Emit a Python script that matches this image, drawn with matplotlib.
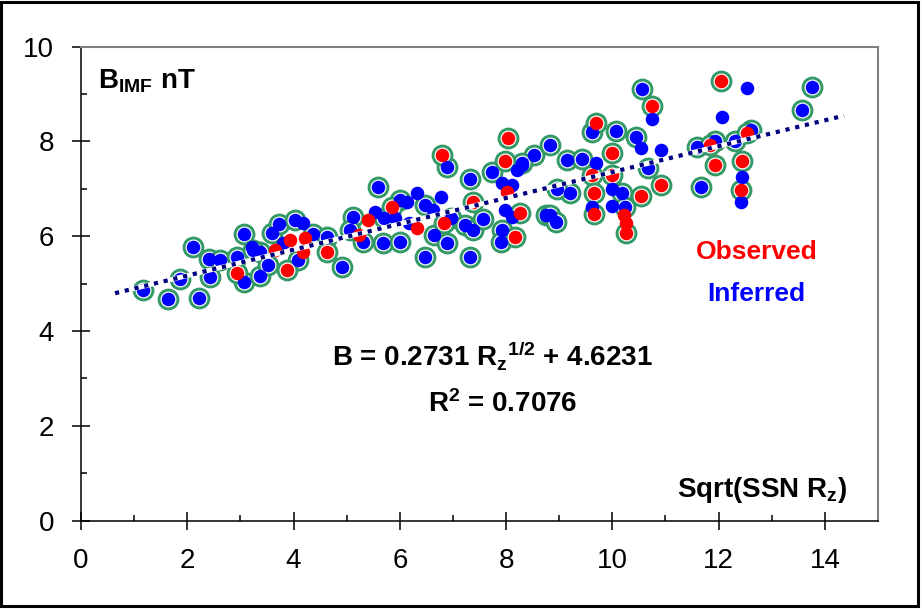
import matplotlib
matplotlib.use('Agg')
import matplotlib.pyplot as plt
from matplotlib.patches import Rectangle
from matplotlib.ticker import MultipleLocator
import numpy as np

plt.rcParams['font.family'] = ['Liberation Sans', 'DejaVu Sans']
plt.rcParams['mathtext.fontset'] = 'custom'
plt.rcParams['mathtext.rm'] = 'Liberation Sans'
plt.rcParams['mathtext.bf'] = 'Liberation Sans:bold'
plt.rcParams['mathtext.it'] = 'Liberation Sans:italic'
plt.rcParams['mathtext.default'] = 'bf'

# inferred values (blue), with green ring
inf_ring_x = [1.17, 1.64, 2.22, 1.86, 2.11, 2.41, 2.61, 2.42, 2.93, 3.06, 3.06, 3.36, 3.36, 3.52,
              3.59, 3.72, 4.02, 4.08, 4.36, 4.62, 4.92, 5.58, 5.11, 5.06, 5.30, 5.68, 6.00, 6.00,
              6.47, 6.65, 6.47, 6.88, 6.88, 6.97, 7.22, 7.33, 7.37, 7.33, 7.56, 7.73, 7.93, 7.91,
              8.53, 8.76, 8.82, 8.29, 9.14, 9.42, 10.68, 10.19, 10.23, 9.21, 8.95, 8.82, 8.93,
              10.56, 9.62, 10.06, 10.45, 13.76, 13.57, 11.60, 11.94, 12.31, 12.61, 11.67, 5.71, 3.23]
inf_ring_y = [4.86, 4.67, 4.69, 5.09, 5.77, 5.52, 5.50, 5.14, 5.56, 6.04, 5.03, 5.66, 5.16, 5.39,
              6.07, 6.26, 6.34, 5.50, 6.04, 5.98, 5.35, 7.04, 6.40, 6.13, 5.88, 5.85, 6.76, 5.88,
              6.66, 6.02, 5.56, 5.85, 7.46, 6.38, 6.23, 7.20, 6.13, 5.56, 6.36, 7.35, 6.13, 5.88,
              7.71, 6.45, 7.92, 7.54, 7.61, 7.63, 7.44, 6.91, 6.61, 6.91, 6.99, 6.45, 6.30,
              9.10, 8.20, 8.22, 8.09, 9.15, 8.66, 7.88, 8.01, 8.01, 8.24, 7.04, 6.38, 5.71]

# inferred values (blue), no ring
inf_x = [3.21, 4.17, 3.80, 5.53, 6.13, 6.33, 6.18, 6.62, 6.77, 7.93, 8.12, 7.97, 8.12, 8.29,
         8.21, 9.70, 10.00, 10.00, 9.62, 10.75, 10.53, 10.92, 12.54, 12.07, 12.44, 12.42, 5.90]
inf_y = [5.77, 6.28, 5.85, 6.51, 6.72, 6.91, 6.28, 6.55, 6.82, 7.12, 7.08, 6.55, 6.40, 7.50,
         7.39, 7.54, 6.99, 6.64, 6.61, 8.47, 7.86, 7.82, 9.12, 8.51, 7.25, 6.72, 6.38]

# observed values (red), with green ring
obs_ring_x = [2.93, 3.87, 4.62, 5.86, 6.84, 6.79, 7.37, 7.97, 8.16, 8.27, 8.03, 9.61, 10.00, 10.00,
              10.92, 10.53, 10.26, 9.66, 9.66, 10.75, 9.70, 12.05, 11.84, 11.94, 12.54, 12.44, 12.42]
obs_ring_y = [5.22, 5.28, 5.66, 6.61, 6.28, 7.71, 6.72, 7.58, 5.98, 6.49, 8.07, 7.29, 7.75, 7.29,
              7.08, 6.85, 6.07, 6.91, 6.47, 8.74, 8.39, 9.27, 7.92, 7.50, 8.18, 7.58, 6.97]

# observed values (red), no ring
obs_x = [3.65, 3.93, 4.21, 4.17, 5.41, 5.24, 6.33, 8.01, 10.21, 10.26]
obs_y = [5.71, 5.92, 5.96, 5.66, 6.34, 6.02, 6.17, 6.93, 6.45, 6.28]

# linear fit  B = a * sqrt(Rz) + b
fit_a = 0.2731
fit_b = 4.6231
fit_range = [0.64, 14.36]

blue = '#0000FF'
red = '#FF0000'
ring = '#339966'

fig = plt.figure(figsize=(9.22, 6.09), dpi=100)
ax = fig.add_axes([0.0879, 0.1453, 0.8644, 0.7780])

ring_x = inf_ring_x + obs_ring_x
ring_y = inf_ring_y + obs_ring_y
ax.scatter(ring_x, ring_y, s=185, facecolors='white', edgecolors=ring, linewidths=2.1, zorder=2)
ax.scatter(inf_ring_x + inf_x, inf_ring_y + inf_y, s=95, c=blue, linewidths=0, zorder=3)
ax.scatter(obs_ring_x + obs_x, obs_ring_y + obs_y, s=95, c=red, linewidths=0, zorder=4)

lx = np.array(fit_range)
ly = fit_a * lx + fit_b
ax.plot(lx, ly, color='white', lw=3.5, solid_capstyle='butt', zorder=5)
ax.plot(lx, ly, color='#000080', lw=3, linestyle=(0, (1, 1.4)), dash_capstyle='butt', zorder=6)

ax.set_xlim(0, 15)
ax.set_ylim(0, 10)
ax.set_xticks([0, 2, 4, 6, 8, 10, 12, 14])
ax.set_yticks([0, 2, 4, 6, 8, 10])
ax.xaxis.set_minor_locator(MultipleLocator(1))
ax.yaxis.set_minor_locator(MultipleLocator(1))
ax.tick_params(which='major', direction='inout', length=13, width=1.1, labelsize=20, color='black')
ax.tick_params(axis='x', which='major', pad=13)
ax.tick_params(axis='y', which='major', pad=13)
ax.tick_params(which='minor', direction='in', length=4.3, width=1.1)

for s in ['left', 'bottom']:
    ax.spines[s].set_color('black')
    ax.spines[s].set_linewidth(1.1)
for s in ['top', 'right']:
    ax.spines[s].set_color('#808080')
    ax.spines[s].set_linewidth(1.5)

ax.text(0.32, 9.12, r'B$_{\mathbf{IMF}}$ nT', fontsize=20, fontweight='bold', va='baseline', ha='left')
ax.text(12.71, 5.52, 'Observed', fontsize=19, fontweight='bold', color=red, ha='center', va='baseline')
ax.text(12.71, 4.63, 'Inferred', fontsize=19, fontweight='bold', color=blue, ha='center', va='baseline')
ax.text(7.75, 3.28, r'B = 0.2731 R$_{\mathbf{z}}$$^{\mathbf{1/2}}$ + 4.6231', fontsize=20,
        fontweight='bold', ha='center', va='baseline')
ax.text(7.94, 2.29, r'R$^{\mathbf{2}}$ = 0.7076', fontsize=20, fontweight='bold', ha='center', va='baseline')
ax.text(14.42, 0.50, r'Sqrt(SSN R$_{\mathbf{z}}$)', fontsize=20, fontweight='bold', ha='right', va='baseline')

fig.patches.append(Rectangle((0.0016, 0.0049), 0.9941, 0.9926, transform=fig.transFigure,
                             fill=False, edgecolor='black', linewidth=2.2))

fig.savefig('out.png', dpi=100)
